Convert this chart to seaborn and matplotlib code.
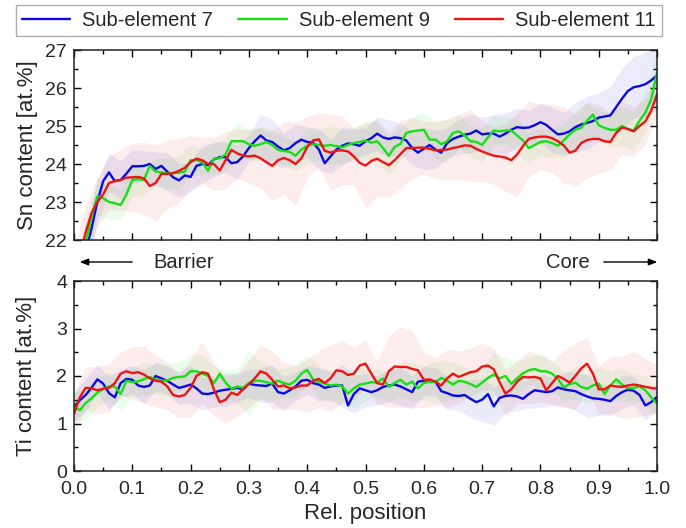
import numpy as np
import pandas as pd
import matplotlib
matplotlib.use("Agg")
import matplotlib.pyplot as plt
from matplotlib.ticker import MultipleLocator, FormatStrFormatter
import seaborn as sns

# ---------------- data ----------------
pos = [round(i * 0.01, 2) for i in range(101)]
band_pos = pos[::2]
series_names = ["Sub-element 7", "Sub-element 9", "Sub-element 11"]
colors = ["#0a0ae0", "#14e014", "#ec1414"]

sn_se7 = [20.6, 21.3, 21.7, 22.3, 23.0, 23.55, 23.78, 23.55, 23.58, 23.75,
          23.94, 23.94, 23.95, 24.0, 23.87, 23.95, 23.8, 23.65, 23.57, 23.7,
          23.66, 23.95, 24.0, 23.97, 24.12, 24.18, 24.18, 24.02, 24.05, 24.2,
          24.42, 24.6, 24.75, 24.62, 24.58, 24.46, 24.36, 24.42, 24.55, 24.64,
          24.58, 24.56, 24.38, 24.02, 24.2, 24.38, 24.48, 24.54, 24.52, 24.48,
          24.6, 24.68, 24.8, 24.7, 24.66, 24.7, 24.68, 24.62, 24.42, 24.3,
          24.4, 24.5, 24.38, 24.3, 24.55, 24.66, 24.72, 24.77, 24.8, 24.88,
          24.78, 24.8, 24.8, 24.72, 24.8, 24.9, 24.97, 24.95, 24.96, 25.02,
          25.1, 25.03, 24.9, 24.78, 24.8, 24.86, 24.97, 25.04, 25.08, 25.13,
          25.22, 25.25, 25.28, 25.5, 25.72, 25.92, 26.02, 26.05, 26.1, 26.2,
          26.33]
sn_se9 = [20.8, 21.4, 21.9, 22.6, 23.15, 23.1, 23.0, 22.97, 22.92, 23.2,
          23.58, 23.6, 23.58, 23.95, 23.8, 23.78, 23.75, 23.76, 23.77, 23.8,
          24.1, 24.1, 24.05, 23.82, 24.14, 24.15, 24.25, 24.6, 24.6, 24.6,
          24.52, 24.48, 24.52, 24.58, 24.5, 24.37, 24.34, 24.32, 24.22, 24.38,
          24.48, 24.52, 24.5, 24.48, 24.5, 24.47, 24.44, 24.5, 24.55, 24.58,
          24.62, 24.56, 24.6, 24.42, 24.22, 24.45, 24.53, 24.82, 24.86, 24.88,
          24.9, 24.64, 24.64, 24.52, 24.6, 24.82, 24.86, 24.75, 24.6, 24.58,
          24.5, 24.7, 24.88, 24.86, 24.88, 24.88, 24.75, 24.62, 24.42, 24.5,
          24.58, 24.6, 24.55, 24.48, 24.62, 24.78, 24.9, 24.95, 25.14, 25.3,
          25.02, 24.95, 24.9, 24.9, 25.0, 24.92, 24.88, 25.14, 25.35, 25.7,
          26.4]
sn_se11 = [21.0, 21.6, 22.2, 22.7, 23.0, 23.2, 23.5, 23.55, 23.58, 23.64,
           23.65, 23.66, 23.62, 23.42, 23.5, 23.74, 23.74, 23.76, 23.82, 23.9,
           24.05, 24.14, 24.1, 24.0, 24.0, 23.83, 24.1, 24.37, 24.28, 24.22,
           24.2, 24.22, 24.15, 24.05, 23.95, 24.1, 24.16, 24.1, 24.0, 24.15,
           24.45, 24.62, 24.65, 24.35, 24.3, 24.35, 24.36, 24.33, 24.2, 24.03,
           23.96, 24.08, 24.14, 24.05, 23.97, 24.1, 24.26, 24.42, 24.42, 24.43,
           24.43, 24.4, 24.36, 24.37, 24.38, 24.42, 24.45, 24.49, 24.48, 24.4,
           24.33, 24.27, 24.22, 24.2, 24.17, 24.1, 24.25, 24.47, 24.66, 24.7,
           24.72, 24.72, 24.68, 24.6, 24.49, 24.3, 24.35, 24.55, 24.63, 24.66,
           24.66, 24.6, 24.58, 24.82, 24.96, 24.92, 24.86, 25.0, 25.12, 25.4,
           25.84]

sn_sd7 = [0.6, 0.6, 0.55, 0.5, 0.5, 0.45, 0.4, 0.45, 0.5, 0.45, 0.4, 0.5, 0.45,
          0.4, 0.45, 0.35, 0.55, 0.6, 0.45, 0.5, 0.4, 0.55, 0.45, 0.5, 0.4, 0.35,
          0.45, 0.5, 0.4, 0.45, 0.55, 0.5, 0.4, 0.45, 0.5, 0.45, 0.5, 0.55, 0.5,
          0.45, 0.5, 0.6, 0.55, 0.65, 0.7, 0.65, 0.75, 0.8, 0.8, 0.85, 0.9]
sn_sd9 = [0.6, 0.55, 0.5, 0.45, 0.4, 0.45, 0.4, 0.35, 0.4, 0.45, 0.4, 0.35, 0.4,
          0.45, 0.5, 0.4, 0.45, 0.4, 0.35, 0.4, 0.45, 0.4, 0.5, 0.45, 0.4, 0.5,
          0.55, 0.5, 0.45, 0.4, 0.45, 0.5, 0.55, 0.45, 0.4, 0.45, 0.4, 0.35, 0.45,
          0.4, 0.35, 0.4, 0.45, 0.5, 0.45, 0.4, 0.45, 0.5, 0.5, 0.55, 0.6]
sn_sd11 = [0.7, 0.7, 0.65, 0.7, 0.8, 0.9, 0.95, 1.0, 0.9, 0.85, 0.7, 0.6, 0.7,
           0.75, 0.65, 0.7, 0.8, 0.9, 0.95, 1.1, 0.8, 0.7, 1.0, 0.9, 0.75, 1.1,
           1.0, 0.85, 0.9, 0.8, 0.7, 0.75, 0.8, 0.85, 0.95, 0.8, 0.75, 0.9, 1.1,
           1.0, 0.85, 0.9, 1.0, 0.95, 1.0, 0.9, 0.75, 0.7, 0.65, 0.6, 0.55]

ti_se7 = [1.35, 1.49, 1.6, 1.75, 1.93, 1.84, 1.64, 1.55, 1.85, 1.94,
          1.92, 1.8, 1.77, 1.8, 2.0, 1.95, 1.9, 1.82, 1.75, 1.78,
          1.82, 1.74, 1.63, 1.62, 1.65, 1.69, 1.71, 1.73, 1.75, 1.72,
          1.84, 1.81, 1.8, 1.79, 1.84, 1.66, 1.63, 1.7, 1.78, 1.9,
          1.92, 1.85, 1.82, 1.75, 1.78, 1.8, 1.8, 1.38, 1.62, 1.74,
          1.7, 1.66, 1.7, 1.77, 1.8, 1.82, 1.78, 1.72, 1.66, 1.88,
          1.9, 1.89, 1.88, 1.68, 1.64, 1.59, 1.58, 1.6, 1.52, 1.45,
          1.5, 1.62, 1.36, 1.54, 1.58, 1.59, 1.57, 1.52, 1.62, 1.7,
          1.68, 1.66, 1.68, 1.76, 1.72, 1.7, 1.68, 1.62, 1.57, 1.53,
          1.52, 1.5, 1.47, 1.58, 1.66, 1.71, 1.69, 1.6, 1.38, 1.45,
          1.56]
ti_se9 = [1.35, 1.28, 1.43, 1.53, 1.65, 1.73, 1.78, 1.78, 1.62, 1.9,
          1.87, 1.89, 1.93, 1.98, 1.93, 1.9, 1.91, 1.96, 1.98, 1.99,
          2.1, 2.1, 2.05, 2.0, 1.85, 2.05, 1.86, 1.73, 1.78, 1.75,
          1.85, 1.9, 1.9, 1.87, 1.84, 1.9, 1.85, 1.82, 1.9, 2.05,
          2.13, 1.93, 1.88, 1.84, 1.8, 1.82, 1.78, 1.63, 1.74, 1.82,
          1.84, 1.87, 1.86, 1.95, 1.77, 1.85, 1.92, 1.82, 1.88, 1.74,
          1.85, 1.88, 1.87, 1.96, 1.9, 1.82, 1.9, 1.88, 1.83, 1.77,
          1.86, 1.96, 2.03, 1.95, 2.0, 1.84, 1.95, 2.06, 2.12, 2.15,
          2.1, 2.1, 2.05, 1.94, 1.76, 1.83, 1.86, 1.77, 1.73, 1.8,
          1.84, 1.62, 1.8, 1.93, 1.82, 1.74, 1.75, 1.78, 1.7, 1.55,
          1.42]
ti_se11 = [1.2, 1.55, 1.75, 1.74, 1.7, 1.73, 1.75, 1.85, 2.05, 2.1,
           2.06, 2.08, 2.03, 1.95, 1.9, 1.88, 1.78, 1.6, 1.57, 1.6,
           1.75, 2.0, 2.08, 2.05, 1.72, 1.45, 1.5, 1.65, 1.6, 1.72,
           1.83, 1.95, 2.1, 2.05, 1.92, 1.78, 1.8, 1.74, 1.76, 1.8,
           1.8, 1.9, 1.94, 1.85, 1.95, 2.12, 2.1, 2.02, 2.05, 2.22,
           2.26, 2.05, 1.85, 1.82, 2.1, 2.2, 2.19, 2.19, 2.15, 2.12,
           1.92, 1.93, 1.88, 1.8, 1.95, 2.05, 1.98, 2.03, 2.08, 2.1,
           2.2, 2.22, 2.14, 1.87, 1.63, 1.72, 1.88, 1.98, 1.97, 1.98,
           1.95, 1.7, 1.85, 2.0, 1.94, 1.86, 2.0, 2.16, 2.26, 2.05,
           1.72, 1.72, 1.8, 1.78, 1.77, 1.8, 1.82, 1.8, 1.77, 1.75,
           1.73]

ti_sd7 = [0.3, 0.35, 0.3, 0.35, 0.3, 0.3, 0.35, 0.3, 0.3, 0.35, 0.4, 0.35, 0.3,
          0.35, 0.3, 0.3, 0.35, 0.4, 0.35, 0.3, 0.3, 0.35, 0.3, 0.45, 0.4, 0.35,
          0.3, 0.35, 0.4, 0.35, 0.3, 0.3, 0.35, 0.3, 0.4, 0.45, 0.4, 0.35, 0.3,
          0.3, 0.35, 0.3, 0.35, 0.4, 0.45, 0.35, 0.3, 0.35, 0.3, 0.3, 0.3]
ti_sd9 = [0.3, 0.35, 0.3, 0.3, 0.35, 0.3, 0.35, 0.3, 0.35, 0.3, 0.35, 0.4, 0.35,
          0.3, 0.35, 0.7, 0.4, 0.35, 0.3, 0.35, 0.3, 0.35, 0.3, 0.35, 0.4, 0.35,
          0.3, 0.3, 0.35, 0.4, 0.35, 0.45, 0.4, 0.35, 0.3, 0.35, 0.45, 0.4, 0.35,
          0.3, 0.35, 0.3, 0.3, 0.35, 0.3, 0.35, 0.3, 0.35, 0.3, 0.3, 0.3]
ti_sd11 = [0.4, 0.45, 0.5, 0.5, 0.45, 0.55, 0.6, 0.55, 0.5, 0.45, 0.6, 0.65, 0.55,
           0.5, 0.45, 0.5, 0.55, 0.6, 0.5, 0.45, 0.55, 0.6, 0.7, 0.65, 0.55, 0.5,
           0.45, 0.75, 0.85, 0.8, 0.6, 0.5, 0.6, 0.55, 0.5, 0.5, 0.45, 0.5, 0.45,
           0.55, 0.5, 0.45, 0.6, 0.7, 0.55, 0.5, 0.6, 0.65, 0.7, 0.6, 0.5]

# ---------------- style ----------------
sns.set_theme(style="ticks")
plt.rcParams["font.family"] = ["Liberation Sans", "DejaVu Sans"]
plt.rcParams["axes.linewidth"] = 1.1

fig = plt.figure(figsize=(6.86, 5.28), dpi=100)
ax1 = fig.add_axes([74 / 686, 1 - 240 / 528, 583 / 686, 190 / 528])
ax2 = fig.add_axes([74 / 686, 1 - 471 / 528, 583 / 686, 190 / 528])

panels = [
    (ax1, [sn_se7, sn_se9, sn_se11], [sn_sd7, sn_sd9, sn_sd11]),
    (ax2, [ti_se7, ti_se9, ti_se11], [ti_sd7, ti_sd9, ti_sd11]),
]

for ax, means, sds in panels:
    for name, col, m, sd in zip(series_names, colors, means, sds):
        c = np.array(m)[::2]
        s = np.array(sd)
        ax.fill_between(band_pos, c - s, c + s, color=col, alpha=0.08, lw=0)
    frames = []
    for name, m in zip(series_names, means):
        frames.append(pd.DataFrame({"pos": pos, "value": m, "series": name}))
    df = pd.concat(frames, ignore_index=True)
    sns.lineplot(data=df, x="pos", y="value", hue="series",
                 palette=dict(zip(series_names, colors)), lw=1.7,
                 ax=ax, legend=False, errorbar=None)

for ax in (ax1, ax2):
    ax.set_xlim(0, 1)
    ax.xaxis.set_major_locator(MultipleLocator(0.1))
    ax.xaxis.set_minor_locator(MultipleLocator(0.05))
    ax.xaxis.set_major_formatter(FormatStrFormatter("%.1f"))
    ax.yaxis.set_minor_locator(MultipleLocator(0.5))
    ax.tick_params(which="both", direction="in", top=True, right=True,
                   labelsize=14, color="black", width=1.0)
    ax.tick_params(which="major", length=5)
    ax.tick_params(which="minor", length=3)
    ax.tick_params(axis="x", pad=7)
    ax.tick_params(axis="y", pad=5)
    for sp in ax.spines.values():
        sp.set_color("#222222")

ax1.set_ylim(22, 27)
ax1.yaxis.set_major_locator(MultipleLocator(1))
ax1.tick_params(labelbottom=False)
ax1.set_xlabel("")
ax1.set_ylabel("Sn content [at.%]", fontsize=16, labelpad=5)

ax2.set_ylim(0, 4)
ax2.yaxis.set_major_locator(MultipleLocator(1))
ax2.set_xlabel("Rel. position", fontsize=16, labelpad=4)
ax2.set_ylabel("Ti content [at.%]", fontsize=16, labelpad=14)

# legend
handles = [plt.Line2D([], [], color=c, lw=1.7) for c in colors]
leg = fig.legend(handles, series_names, loc="upper center",
                 bbox_to_anchor=(339 / 686, 1 - 1 / 528), ncol=3,
                 fontsize=14.5, frameon=True, fancybox=False,
                 edgecolor="#999999", handlelength=2.4, columnspacing=1.25,
                 handletextpad=0.6, borderpad=0.3, borderaxespad=0.2)
leg.get_frame().set_linewidth(1.0)

# Barrier / Core annotations
ya = 1 - 262 / 528
fig.text(153 / 686, ya, "Barrier", fontsize=14.5, va="center", ha="left")
fig.text(590 / 686, ya, "Core", fontsize=14.5, va="center", ha="right")
fig.add_artist(matplotlib.patches.FancyArrowPatch(
    (135 / 686, ya), (77 / 686, ya), transform=fig.transFigure,
    arrowstyle="-|>,head_length=5,head_width=2", color="black", lw=1.0))
fig.add_artist(matplotlib.patches.FancyArrowPatch(
    (601 / 686, ya), (660 / 686, ya), transform=fig.transFigure,
    arrowstyle="-|>,head_length=5,head_width=2", color="black", lw=1.0))

fig.savefig("out.png", dpi=100)
